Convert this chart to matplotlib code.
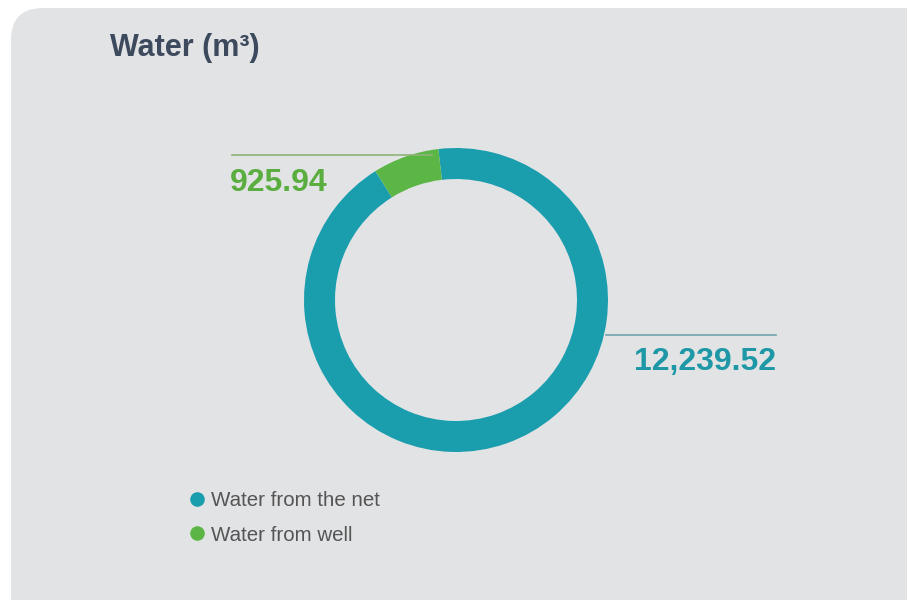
import matplotlib.pyplot as plt
from matplotlib.patches import FancyBboxPatch, Rectangle
from matplotlib.lines import Line2D

# water use in m3
labels = ['Water from the net', 'Water from well']
values = [12239.52, 925.94]
value_text = ['12,239.52', '925.94']
colors = ['#1a9dad', '#5cb646']
title = 'Water (m\u00b3)'

W, H = 912, 600
fig = plt.figure(figsize=(W / 100, H / 100), dpi=100)
ax = fig.add_axes([0, 0, 1, 1])

# grey card with the rounded top-left corner
card = '#e2e3e5'
ax.add_patch(FancyBboxPatch((11, -60), 896, 652, boxstyle='round,pad=0,rounding_size=32',
                            fc=card, ec='none', zorder=0))
ax.add_patch(Rectangle((200, 300), 707, 292, fc=card, ec='none', zorder=0))

# donut, pixel coordinates (y up)
cx, cy, r = 456, 300, 152
ax.pie(values, colors=colors, startangle=122, center=(cx, cy), radius=r,
       wedgeprops=dict(width=31, linewidth=0))

ax.set_xlim(0, W)
ax.set_ylim(0, H)
ax.set_aspect('auto')
ax.axis('off')

head = ['Liberation Sans', 'DejaVu Sans']
ax.text(110, 544, title, fontsize=22, fontweight='bold', color='#3d4a5e',
        family=head, va='baseline', ha='left')

# leader lines and value labels
ax.plot([232, 432], [445, 445], color='#8fb37a', lw=1.2)
ax.text(230, 409, value_text[1], fontsize=23, fontweight='bold', color='#5aae3f',
        family=head, va='baseline', ha='left')
ax.plot([606, 776], [265, 265], color='#6fa5ad', lw=1.2)
ax.text(776, 230, value_text[0], fontsize=23, fontweight='bold', color='#1e98a6',
        family=head, va='baseline', ha='right')

handles = [Line2D([], [], ls='none', marker='o', markersize=10.5, color=c, markeredgewidth=0)
           for c in colors]
leg = ax.legend(handles, labels, loc='upper left', bbox_to_anchor=(189 / W, 1 - 491 / H),
                frameon=False, handlelength=0.8, handletextpad=0.27, labelspacing=0.76,
                prop=dict(family='Liberation Sans', size=14.8), borderaxespad=0, borderpad=0)
for t in leg.get_texts():
    t.set_color('#555555')

fig.savefig('out.png', dpi=100, facecolor='white')
